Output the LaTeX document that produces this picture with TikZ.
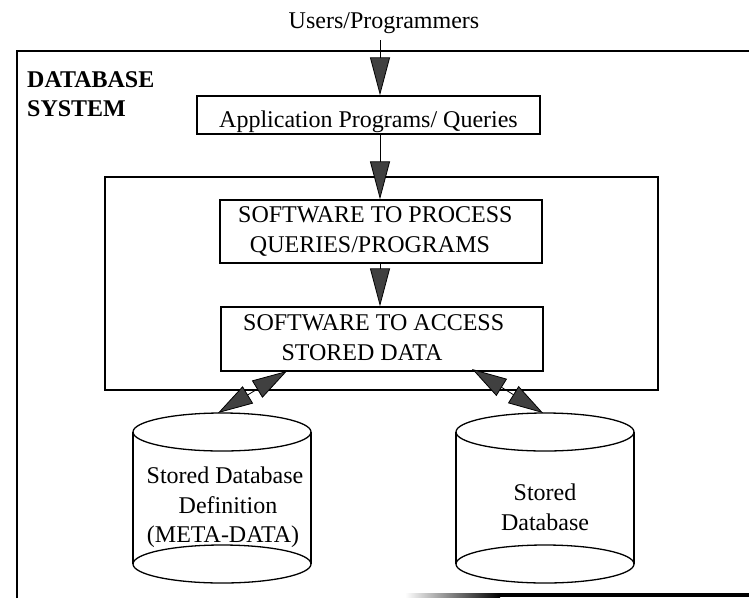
\documentclass[tikz,border=0pt]{standalone}
\usepackage{fontspec}
\setmainfont{Liberation Serif}
\usetikzlibrary{arrows.meta}

% storage drum: centre x, y of top rim, y of bottom rim
\newcommand\dbcyl[3]{%
  \draw[rim] (#1-89,#2) -- (#1-89,#3);
  \draw[rim] (#1+89,#2) -- (#1+89,#3);
  \draw[rim] (#1,#2) ellipse [x radius=89pt, y radius=19pt];
  \draw[rim] (#1,#3) ellipse [x radius=89pt, y radius=19pt];}

\begin{document}
\begin{tikzpicture}[x=1pt,y=-1pt,
  txt/.style={font=\fontsize{24}{30}\selectfont, inner sep=0pt, anchor=base},
  title/.style={txt, font=\fontsize{24}{30}\selectfont\bfseries, anchor=base west},
  boxnode/.style={draw, line width=1.3pt, inner sep=0pt},
  rim/.style={line width=1.3pt},
  headtip/.tip={Triangle[length=38pt,width=20pt,fill=black!75]},
  smalltip/.tip={Triangle[length=35pt,width=20pt,fill=black!75]},
  flow/.style={line width=0.8pt, -headtip},
  dbl/.style={line width=0.8pt, smalltip-smalltip}]

\useasboundingbox (0,0) rectangle (749,598);
\fill[white] (0,0) rectangle (749,598);

% outer frame of the database system
\draw[line width=1.5pt] (17,598) -- (17,51) -- (749,51);
\shade[left color=white, right color=black] (405,593) rectangle (500,597);
\fill[black] (500,593) rectangle (749,597);

% labels at the top
\node[txt] (users) at (384,28) {Users/Programmers};
\node[title] (t1) at (27,87) {DATABASE};
\node[title] (t2) at (27,116) {SYSTEM};

% boxes
\node[boxnode, minimum width=343pt, minimum height=38pt] (app) at (368.5,115) {};
\node[txt, anchor=base west] (apptxt) at (219,127) {Application Programs/ Queries};

\node[boxnode, minimum width=553pt, minimum height=213pt] (dbms) at (381.5,283.5) {};

\node[boxnode, minimum width=322pt, minimum height=63pt] (proc) at (381,231.5) {};
\node[txt, anchor=base west] (p1) at (238,222) {SOFTWARE TO PROCESS};
\node[txt] (p2) at (370,252) {QUERIES/PROGRAMS};

\node[boxnode, minimum width=322pt, minimum height=64pt] (acc) at (382,339) {};
\node[txt, anchor=base west] (a1) at (243,330) {SOFTWARE TO ACCESS};
\node[txt] (a2) at (362,360) {STORED DATA};

% stored data drums
\dbcyl{222}{432}{564}
\dbcyl{545}{432}{564}
\node[txt] (m1) at (225,483) {Stored Database};
\node[txt] (m2) at (228,513) {Definition};
\node[txt] (m3) at (223,542) {(META-DATA)};
\node[txt] (d1) at (545,500) {Stored};
\node[txt] (d2) at (545,530) {Database};

% connectors
\coordinate (u0) at (380,40);
\coordinate (la) at (287,371);
\coordinate (metatop) at (218,413);
\coordinate (ra) at (472,369);
\coordinate (dbtop) at (543,413);

\draw[flow] (u0) -- (app.north -| u0);
\draw[flow] (app.south -| u0) -- (proc.north -| u0);
\draw[flow] (proc.south -| u0) -- (acc.north -| u0);
\draw[dbl] (la) -- (metatop);
\draw[dbl] (ra) -- (dbtop);
\end{tikzpicture}
\end{document}
